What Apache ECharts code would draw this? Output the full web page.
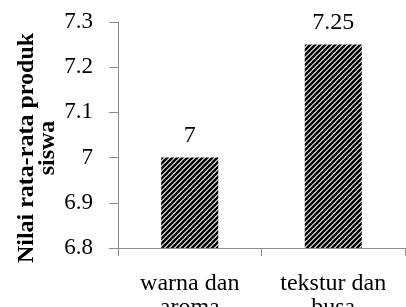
<!DOCTYPE html>
<html>
<head>
<meta charset="utf-8">
<script src="https://cdn.jsdelivr.net/npm/echarts@6/dist/echarts.min.js"></script>
<style>
html,body{margin:0;padding:0;background:#fff;}
#c{width:406px;height:307px;}
</style>
</head>
<body>
<div id="c"></div>
<script>
var categories = ['warna dan\naroma', 'tekstur dan\nbusa'];
var values = [7, 7.25];
var yName = 'Nilai rata-rata produk\nsiswa';

function makePattern() {
  var s = 5;
  var cv = document.createElement('canvas');
  cv.width = s; cv.height = s;
  var ctx = cv.getContext('2d');
  ctx.fillStyle = '#fff';
  ctx.fillRect(0, 0, s, s);
  ctx.strokeStyle = '#000';
  ctx.lineWidth = 2.6;
  ctx.beginPath();
  ctx.moveTo(-1, s + 1); ctx.lineTo(s + 1, -1);
  ctx.moveTo(-1, 1); ctx.lineTo(1, -1);
  ctx.moveTo(s - 1, s + 1); ctx.lineTo(s + 1, s - 1);
  ctx.stroke();
  return cv;
}

var chart = echarts.init(document.getElementById('c'), null, {renderer: 'canvas'});
var font = '"Liberation Serif", "Times New Roman", serif';
chart.setOption({
  animation: false,
  grid: {left: 118, right: 1, top: 22, bottom: 59, containLabel: false, outerBoundsMode: 'none'},
  xAxis: {
    type: 'category',
    data: categories,
    axisLine: {lineStyle: {color: '#8c8c8c', width: 1}},
    axisTick: {show: true, length: 8, lineStyle: {color: '#8c8c8c'}},
    axisLabel: {fontFamily: font, fontSize: 24, color: '#000', margin: 24, lineHeight: 24}
  },
  yAxis: {
    type: 'value',
    min: 6.8, max: 7.3, interval: 0.1,
    name: yName,
    nameLocation: 'middle',
    nameGap: 60,
    nameRotate: 90,
    nameMoveOverlap: false,
    nameTextStyle: {fontFamily: font, fontSize: 24, fontWeight: 'bold', color: '#000', lineHeight: 21, padding: [0, 26, 0, 0]},
    axisLine: {show: true, lineStyle: {color: '#8c8c8c', width: 1}},
    axisTick: {show: true, length: 9, lineStyle: {color: '#8c8c8c'}},
    splitLine: {show: false},
    axisLabel: {fontFamily: font, fontSize: 23, color: '#000', margin: 25,
      formatter: function (v) { return String(Math.round(v * 10) / 10); }}
  },
  series: [{
    type: 'bar',
    data: values,
    barWidth: 57,
    itemStyle: {color: {image: makePattern(), repeat: 'repeat'}},
    label: {show: true, position: 'top', distance: 10, fontFamily: font, fontSize: 24, color: '#000'}
  }]
});
</script>
</body>
</html>
